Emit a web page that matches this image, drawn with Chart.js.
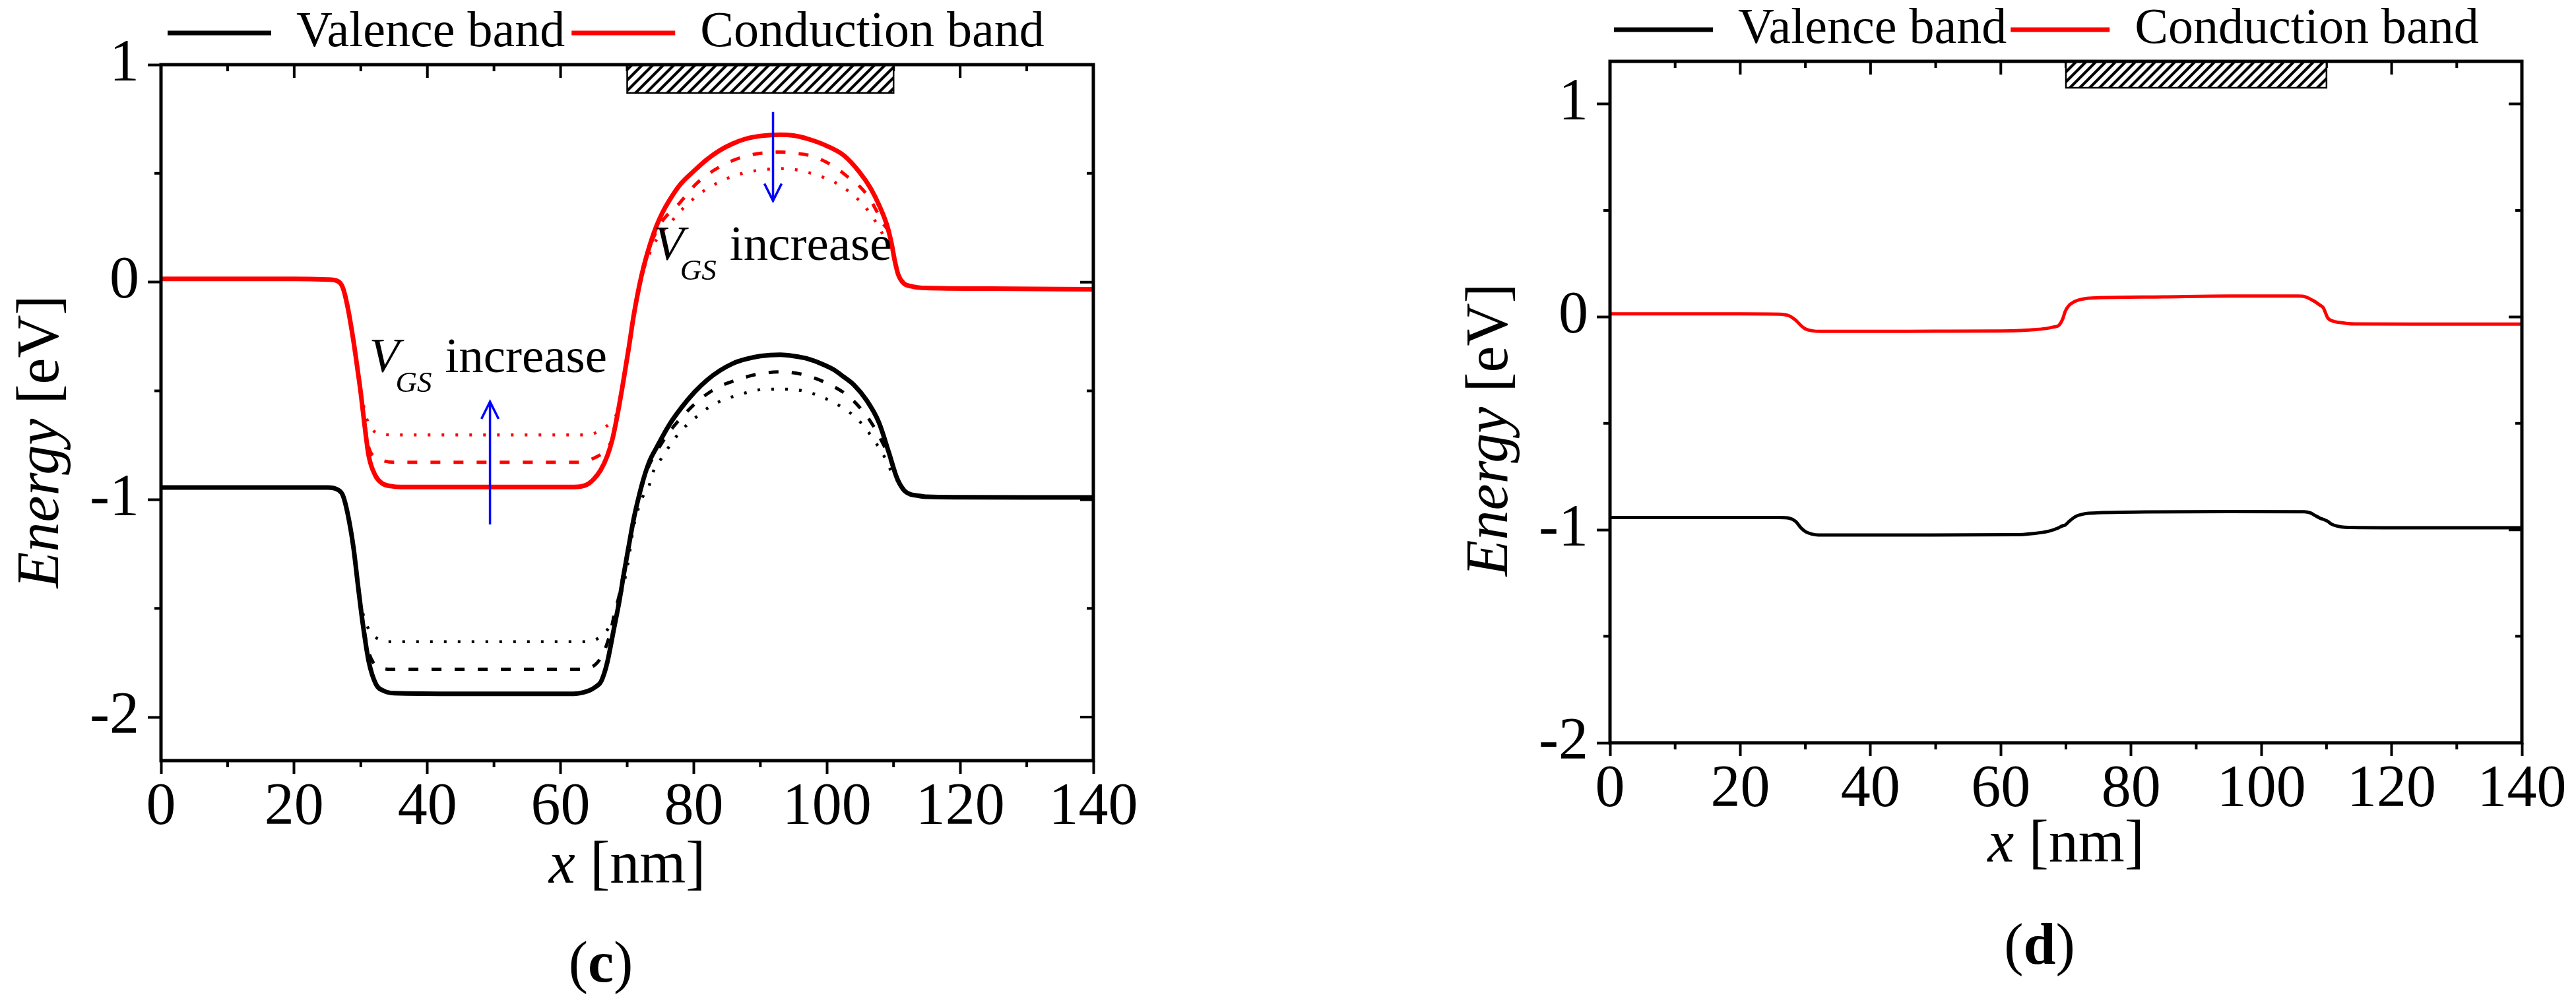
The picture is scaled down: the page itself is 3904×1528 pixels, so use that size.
<!DOCTYPE html>
<html>
<head>
<meta charset="utf-8">
<script src="https://cdn.jsdelivr.net/npm/chart.js@4.4.0/dist/chart.umd.min.js"></script>
<style>
html,body{margin:0;padding:0;background:#fff;width:3904px;height:1528px;overflow:hidden}
canvas{position:absolute;top:0}
#c1{left:0}
#c2{left:1950px}
</style>
</head>
<body>
<canvas id="c1" width="1950" height="1528"></canvas>
<canvas id="c2" width="1954" height="1528"></canvas>
<script>
// ---------- tick values ----------
const xMajor = [0, 20, 40, 60, 80, 100, 120, 140];
const xMinor = [10, 30, 50, 70, 90, 110, 130];
const yMajor = [-2, -1, 0, 1];
const yMinor = [-1.5, -0.5, 0.5];

// ---------- panel (c): [x nm, energy eV] ----------
const vbSolidC = [[0,-0.944],[10,-0.944],[20,-0.944],[25,-0.944],[26.6,-0.955],[27.3,-0.98],[28.0,-1.06],[28.9,-1.22],[29.6,-1.40],[30.3,-1.57],[31.2,-1.745],[32.3,-1.85],[33.5,-1.88],[35,-1.89],[45,-1.893],[55,-1.893],[62,-1.893],[63.5,-1.886],[64.5,-1.875],[65.3,-1.86],[66.1,-1.835],[67,-1.75],[68,-1.595],[68.8,-1.47],[69.5,-1.341],[70.2,-1.22],[71,-1.086],[71.8,-0.98],[72.5,-0.90],[73.4,-0.82],[74.4,-0.761],[76.3,-0.657],[78.2,-0.575],[80.1,-0.506],[82,-0.45],[83.9,-0.407],[85.8,-0.375],[87.7,-0.355],[90,-0.34],[93,-0.334],[95,-0.34],[97.2,-0.353],[99,-0.373],[101,-0.402],[102.5,-0.435],[104,-0.471],[105.9,-0.541],[107.8,-0.645],[109.3,-0.784],[110.5,-0.90],[111.6,-0.958],[112.5,-0.975],[113.5,-0.981],[115,-0.987],[120,-0.989],[130,-0.99],[140,-0.99]];
const vbDashC = [[0,-0.944],[25,-0.944],[26.6,-0.955],[27.3,-0.98],[28.0,-1.06],[28.9,-1.22],[29.6,-1.40],[30.3,-1.56],[31.0,-1.68],[31.8,-1.745],[33.0,-1.772],[34.5,-1.78],[45,-1.78],[55,-1.78],[63,-1.78],[64.5,-1.772],[65.5,-1.75],[66.5,-1.70],[67.4,-1.62],[68.2,-1.51],[68.8,-1.44],[69.5,-1.33],[70.2,-1.21],[71,-1.08],[71.8,-0.985],[72.5,-0.91],[73.4,-0.835],[74.4,-0.78],[76.3,-0.69],[78.8,-0.601],[80.5,-0.55],[82.4,-0.506],[84.2,-0.475],[86.0,-0.454],[89.6,-0.423],[93,-0.413],[96.4,-0.425],[100,-0.465],[103.4,-0.529],[106.5,-0.639],[108.2,-0.73],[109.3,-0.80],[110.5,-0.905],[111.6,-0.958],[112.5,-0.975],[113.5,-0.981],[115,-0.987],[140,-0.99]];
const vbDotC = [[0,-0.944],[25,-0.944],[26.6,-0.955],[27.3,-0.98],[28.0,-1.06],[28.9,-1.22],[29.6,-1.39],[30.3,-1.52],[30.8,-1.57],[31.7,-1.62],[33,-1.645],[34,-1.653],[45,-1.653],[55,-1.653],[64,-1.653],[65.7,-1.636],[67.4,-1.58],[68.5,-1.49],[69.9,-1.33],[71,-1.12],[72.3,-0.99],[73.3,-0.935],[74.0,-0.865],[75.2,-0.808],[76.7,-0.738],[78.2,-0.68],[80.3,-0.622],[82.4,-0.573],[84.5,-0.541],[86.8,-0.518],[88.8,-0.501],[90.9,-0.492],[93,-0.492],[95.1,-0.494],[97.2,-0.506],[99.3,-0.529],[101.3,-0.558],[103.4,-0.599],[105.5,-0.66],[107,-0.724],[108.4,-0.79],[109.5,-0.86],[110.5,-0.91],[111.6,-0.958],[112.5,-0.975],[113.5,-0.981],[115,-0.987],[140,-0.99]];
const cbSolidC = [[0,0.015],[10,0.015],[20,0.015],[25,0.012],[26.5,0.005],[27.3,-0.025],[28.0,-0.11],[28.9,-0.27],[29.6,-0.42],[30.0,-0.51],[30.5,-0.64],[31.2,-0.80],[32.2,-0.89],[33.2,-0.925],[34.5,-0.938],[36,-0.942],[45,-0.942],[55,-0.942],[62,-0.942],[64,-0.93],[65,-0.905],[66,-0.865],[67,-0.80],[67.8,-0.72],[68.6,-0.60],[69.4,-0.46],[70.2,-0.31],[71.0,-0.15],[71.8,-0.02],[72.5,0.074],[73.5,0.18],[74.4,0.258],[75.3,0.32],[76.3,0.374],[78,0.45],[80.1,0.513],[82,0.565],[83.9,0.606],[85.8,0.636],[87.7,0.658],[90,0.672],[93,0.678],[95,0.674],[97.2,0.658],[100,0.626],[102.6,0.581],[104.9,0.505],[106.6,0.429],[107.9,0.349],[109.05,0.258],[109.7,0.177],[110.2,0.096],[110.7,0.035],[111.5,-0.005],[112.85,-0.02],[114.8,-0.027],[124.4,-0.03],[140,-0.033]];
const cbDashC = [[0,0.015],[20,0.015],[25,0.012],[26.5,0.005],[27.3,-0.025],[28.0,-0.11],[28.9,-0.27],[29.6,-0.42],[30.5,-0.63],[31.2,-0.76],[32.2,-0.805],[33.5,-0.822],[35,-0.828],[50,-0.828],[63,-0.828],[64.3,-0.818],[65.6,-0.80],[66.6,-0.78],[67.3,-0.75],[67.8,-0.72],[68.6,-0.60],[69.4,-0.46],[70.2,-0.31],[71.0,-0.15],[71.8,-0.025],[72.5,0.07],[73.5,0.17],[74.5,0.24],[75.5,0.29],[77.5,0.351],[80.5,0.456],[83.9,0.530],[87.5,0.577],[91.5,0.597],[93,0.598],[94.5,0.595],[98.0,0.577],[101.4,0.525],[103.2,0.482],[105,0.437],[106.4,0.385],[107.4,0.33],[108.4,0.27],[109.2,0.235],[109.7,0.177],[110.2,0.096],[110.7,0.035],[111.5,-0.005],[112.85,-0.02],[114.8,-0.027],[124.4,-0.03],[140,-0.033]];
const cbDotC = [[0,0.015],[20,0.015],[25,0.012],[26.5,0.005],[27.3,-0.025],[28.0,-0.11],[28.9,-0.27],[29.6,-0.41],[30.5,-0.58],[31.3,-0.66],[32.2,-0.69],[33.5,-0.70],[35,-0.702],[50,-0.702],[64,-0.702],[65.5,-0.69],[66.8,-0.665],[67.8,-0.635],[68.6,-0.59],[69.4,-0.46],[70.2,-0.31],[71.0,-0.15],[71.8,-0.03],[72.5,0.06],[73.5,0.14],[74.5,0.2],[76.7,0.281],[78.4,0.339],[80.5,0.397],[82.6,0.44],[84.7,0.473],[86.8,0.496],[89.0,0.511],[91.1,0.519],[93.2,0.522],[95.3,0.517],[97.4,0.502],[99.5,0.481],[101.6,0.452],[103.7,0.407],[105.7,0.347],[107.2,0.283],[108.4,0.219],[109.3,0.17],[110.0,0.125],[110.4,0.07],[110.7,0.035],[111.5,-0.005],[112.85,-0.02],[114.8,-0.027],[124.4,-0.03],[140,-0.033]];

// ---------- panel (d) ----------
const cbD = [[0,0.014],[10,0.014],[20,0.014],[26,0.013],[27.5,0.005],[28.5,-0.015],[29.3,-0.04],[30.1,-0.058],[31,-0.065],[32.2,-0.068],[40,-0.068],[50,-0.067],[60,-0.066],[63,-0.064],[65,-0.06],[66.8,-0.055],[68,-0.048],[68.9,-0.04],[69.5,-0.01],[69.9,0.027],[70.5,0.055],[71.2,0.07],[72,0.08],[73.5,0.088],[75,0.09],[85,0.094],[95,0.098],[105.6,0.098],[106.8,0.094],[108.1,0.074],[109,0.055],[109.5,0.043],[110.2,-0.005],[111,-0.02],[111.8,-0.025],[114.3,-0.033],[125,-0.034],[140,-0.034]];
const vbD = [[0,-0.942],[20,-0.942],[26,-0.942],[27.5,-0.945],[28.5,-0.96],[29.3,-0.99],[30.1,-1.01],[31,-1.02],[32,-1.024],[45,-1.024],[62.2,-1.023],[65,-1.017],[67.4,-1.006],[68.9,-0.99],[69.4,-0.982],[69.9,-0.977],[70.5,-0.96],[71.5,-0.937],[72.5,-0.927],[73.5,-0.922],[82.3,-0.916],[95,-0.914],[106.6,-0.915],[107.5,-0.92],[108.1,-0.93],[109,-0.945],[109.7,-0.953],[110.2,-0.96],[110.7,-0.972],[111.7,-0.983],[112.8,-0.988],[120,-0.99],[140,-0.99]];

// ---------- annotations (data units) ----------
const gateX = [70, 110];
const gateYC = [0.87, 1.0];
const gateYD = [1.076, 1.2];
const arrowsC = [{x: 49.4, from: -1.114, to: -0.55}, {x: 91.9, from: 0.782, to: 0.374}];
const notesC = [{x: 31.25, y: -0.414}, {x: 74.0, y: 0.101}];

const FONT = "'Liberation Serif', 'Times New Roman', serif";
Chart.defaults.font.family = FONT;
Chart.defaults.color = '#000';

const pts = a => a.map(([x, y]) => ({x, y}));
function ds(label, arr, color, width, dash, inLegend) {
  return {label, data: pts(arr), borderColor: color, backgroundColor: color, borderWidth: width,
    borderDash: dash, pointRadius: 0, fill: false, cubicInterpolationMode: 'monotone',
    borderCapStyle: 'butt', borderJoinStyle: 'round', inLegend};
}

function hatchPattern(ctx, s) {
  const c = document.createElement('canvas');
  c.width = s; c.height = s;
  const p = c.getContext('2d');
  p.fillStyle = '#fff'; p.fillRect(0, 0, s, s);
  p.strokeStyle = '#000'; p.lineWidth = 4.2;
  p.beginPath();
  p.moveTo(0, s); p.lineTo(s, 0);
  p.moveTo(-s / 4, s / 4); p.lineTo(s / 4, -s / 4);
  p.moveTo(3 * s / 4, 5 * s / 4); p.lineTo(5 * s / 4, 3 * s / 4);
  p.stroke();
  return ctx.createPattern(c, 'repeat');
}

function drawRich(ctx, parts, x, y) {
  let cx = x;
  for (const p of parts) { ctx.font = p.f; ctx.fillText(p.t, cx, y); cx += ctx.measureText(p.t).width; }
}
function richWidth(ctx, parts) {
  let w = 0;
  for (const p of parts) { ctx.font = p.f; w += ctx.measureText(p.t).width; }
  return w;
}

function deco(cfg) {
  return {
    id: 'deco',
    afterDraw(chart) {
      const {ctx, chartArea: a, scales: {x, y}} = chart;
      ctx.save();
      // minor outward ticks + mirrored inward ticks
      ctx.strokeStyle = '#000'; ctx.lineWidth = 4; ctx.lineCap = 'butt';
      ctx.beginPath();
      for (const v of xMinor) {
        const px = x.getPixelForValue(v);
        ctx.moveTo(px, a.bottom); ctx.lineTo(px, a.bottom + 10);
        ctx.moveTo(px, a.top); ctx.lineTo(px, a.top + 10);
      }
      for (const v of xMajor) {
        const px = x.getPixelForValue(v);
        ctx.moveTo(px, a.top); ctx.lineTo(px, a.top + 20);
      }
      for (const v of yMinor) {
        const py = y.getPixelForValue(v);
        ctx.moveTo(a.left, py); ctx.lineTo(a.left - 10, py);
        ctx.moveTo(a.right, py); ctx.lineTo(a.right - 10, py);
      }
      for (const v of yMajor) {
        const py = y.getPixelForValue(v);
        ctx.moveTo(a.right, py); ctx.lineTo(a.right - 20, py);
      }
      ctx.stroke();

      // hatched gate
      const gx0 = x.getPixelForValue(gateX[0]), gx1 = x.getPixelForValue(gateX[1]);
      const gy0 = y.getPixelForValue(cfg.gateY[1]), gy1 = y.getPixelForValue(cfg.gateY[0]);
      ctx.fillStyle = hatchPattern(ctx, cfg.hatch);
      ctx.fillRect(gx0, gy0, gx1 - gx0, gy1 - gy0);
      ctx.lineWidth = 2.5; ctx.strokeStyle = '#000';
      ctx.strokeRect(gx0, gy0, gx1 - gx0, gy1 - gy0);

      // frame
      ctx.lineWidth = 5;
      ctx.strokeRect(a.left, a.top, a.right - a.left, a.bottom - a.top);

      // arrows
      ctx.strokeStyle = '#0000ff'; ctx.lineWidth = 3.5; ctx.lineJoin = 'miter';
      for (const ar of (cfg.arrows || [])) {
        const px = x.getPixelForValue(ar.x), p0 = y.getPixelForValue(ar.from), p1 = y.getPixelForValue(ar.to);
        const dir = Math.sign(p1 - p0);
        ctx.beginPath();
        ctx.moveTo(px, p0); ctx.lineTo(px, p1);
        ctx.moveTo(px - 13, p1 - dir * 26); ctx.lineTo(px, p1); ctx.lineTo(px + 13, p1 - dir * 26);
        ctx.stroke();
      }

      // V_GS increase notes
      ctx.fillStyle = '#000'; ctx.textAlign = 'left'; ctx.textBaseline = 'alphabetic';
      for (const n of (cfg.notes || [])) {
        const px = x.getPixelForValue(n.x), py = y.getPixelForValue(n.y);
        ctx.font = 'italic 75px ' + FONT; ctx.fillText('V', px, py);
        ctx.font = 'italic 45px ' + FONT; ctx.fillText('GS', px + 40, py + 30);
        ctx.font = '75px ' + FONT; ctx.fillText('increase', px + 115, py);
      }

      // axis titles
      const cxm = (a.left + a.right) / 2;
      const xt = [{t: 'x', f: 'italic 90px ' + FONT}, {t: ' [nm]', f: '90px ' + FONT}];
      drawRich(ctx, xt, cxm - richWidth(ctx, xt) / 2, a.bottom + cfg.xTitleDy);
      const yt = [{t: 'Energy', f: 'italic 90px ' + FONT}, {t: ' [eV]', f: '90px ' + FONT}];
      ctx.save();
      ctx.translate(a.left - 177, (a.top + a.bottom) / 2 + cfg.yTitleDy);
      ctx.rotate(-Math.PI / 2);
      drawRich(ctx, yt, -richWidth(ctx, yt) / 2, 21);
      ctx.restore();
      // caption
      const cap = [{t: '(', f: '88px ' + FONT}, {t: cfg.caption, f: 'bold 88px ' + FONT}, {t: ')', f: '88px ' + FONT}];
      drawRich(ctx, cap, cxm - 40 - richWidth(ctx, cap) / 2, a.bottom + 335);
      ctx.restore();
    }
  };
}

function makeChart(id, cfg) {
  const tickFont = {family: FONT, size: 90, lineHeight: 1};
  return new Chart(document.getElementById(id), {
    type: 'line',
    data: {datasets: cfg.datasets},
    options: {
      responsive: false, animation: false, devicePixelRatio: 1,
      layout: {padding: cfg.padding},
      plugins: {
        tooltip: {enabled: false},
        legend: {
          display: true, position: 'top', align: 'start', fullSize: false,
          labels: {
            boxWidth: cfg.boxWidth, boxHeight: 7, padding: cfg.legendPad, color: '#000',
            font: {family: FONT, size: 76, lineHeight: 1},
            generateLabels: ch => ch.data.datasets.map((d, i) => ({d, i})).filter(o => o.d.inLegend)
              .map(o => ({text: o.d.label, fillStyle: o.d.borderColor, strokeStyle: o.d.borderColor,
                lineWidth: 0, hidden: false, datasetIndex: o.i, fontColor: '#000'}))
          }
        }
      },
      scales: {
        x: {
          type: 'linear', min: 0, max: 140,
          afterBuildTicks: s => { s.ticks = xMajor.map(v => ({value: v})); },
          afterFit: s => { s.height = 200; },
          border: {display: false},
          grid: {display: true, drawOnChartArea: false, drawTicks: true, tickLength: 20, tickWidth: 4, tickColor: '#000'},
          ticks: {padding: 7, autoSkip: false, maxRotation: 0, minRotation: 0, color: '#000', font: tickFont, callback: v => String(v)}
        },
        y: {
          type: 'linear', min: cfg.yMin, max: cfg.yMax,
          afterBuildTicks: s => { s.ticks = yMajor.map(v => ({value: v})); },
          afterFit: s => { s.width = cfg.yWidth; },
          border: {display: false},
          grid: {display: true, drawOnChartArea: false, drawTicks: true, tickLength: 20, tickWidth: 4, tickColor: '#000'},
          ticks: {padding: 13, autoSkip: false, color: '#000', font: tickFont, callback: v => String(Math.round(v))}
        }
      }
    },
    plugins: [deco(cfg)]
  });
}

makeChart('c1', {
  datasets: [
    ds('Valence band', vbSolidC, '#000000', 7, [], true),
    ds('Valence band (2)', vbDashC, '#000000', 5, [15, 20], false),
    ds('Valence band (3)', vbDotC, '#000000', 4.5, [4, 17], false),
    ds('Conduction band', cbSolidC, '#ff0000', 7, [], true),
    ds('Conduction band (2)', cbDashC, '#ff0000', 5, [15, 20], false),
    ds('Conduction band (3)', cbDotC, '#ff0000', 4.5, [4, 17], false)
  ],
  padding: {left: 0, right: 293, top: 2, bottom: 175},
  legendPad: 10, boxWidth: 157, yWidth: 244, yMin: -2.2, yMax: 1,
  gateY: gateYC, hatch: 16, arrows: arrowsC, notes: notesC,
  caption: 'c', xTitleDy: 185, yTitleDy: 44
});

makeChart('c2', {
  datasets: [
    ds('Valence band', vbD, '#000000', 5, [], true),
    ds('Conduction band', cbD, '#ff0000', 5, [], true)
  ],
  padding: {left: 0, right: 82, top: 1, bottom: 202},
  legendPad: 6, boxWidth: 150, yWidth: 490, yMin: -2, yMax: 1.2,
  gateY: gateYD, hatch: 15, arrows: [], notes: [],
  caption: 'd', xTitleDy: 180, yTitleDy: 42
});
</script>
</body>
</html>
